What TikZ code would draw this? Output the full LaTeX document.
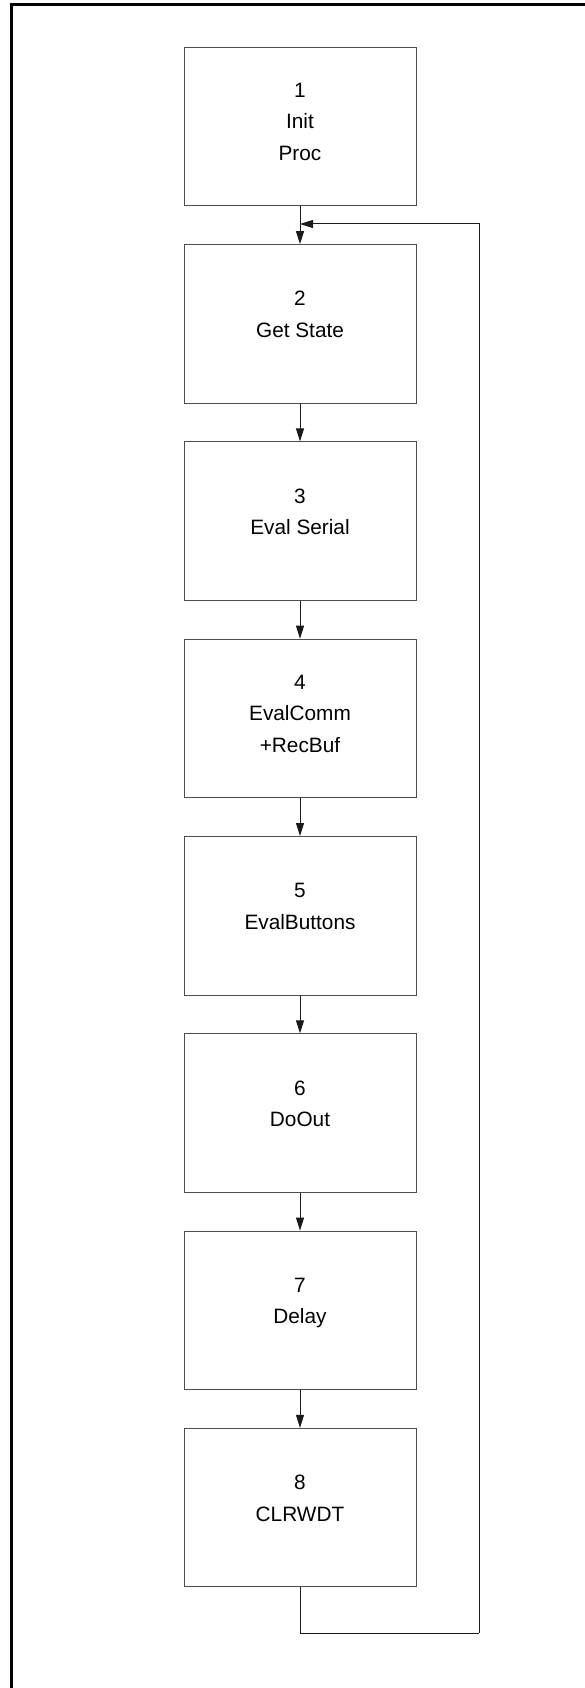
\documentclass[tikz,border=0pt]{standalone}
\usepackage{fontspec}
\setmainfont{Liberation Sans}
\usetikzlibrary{arrows.meta}
\definecolor{boxline}{HTML}{4D4D4D}
\definecolor{flowline}{HTML}{1A1A1A}
\begin{document}
\begin{tikzpicture}[x=1pt,y=-1pt,
  stepbox/.style={draw=boxline, line width=1pt, minimum width=232pt,
                  minimum height=158.5pt, inner sep=0pt},
  steplabel/.style={align=center, inner sep=0pt, anchor=north,
                    font=\fontsize{20.8}{31.5}\selectfont},
  flow/.style={draw=flowline, line width=1pt,
               -{Triangle[length=13pt,width=8pt]}},
  loopline/.style={draw=flowline, line width=1pt},
]
\useasboundingbox (0,0) rectangle (585,1688);
% outer frame (runs past the right and bottom edges)
\draw[black, line width=2.4pt] (11.5,1700) -- (11.5,4.5) -- (600,4.5);

% process steps
\node[stepbox] (b1) at (300,126.55) {};
\node[stepbox] (b2) at (300,323.85) {};
\node[stepbox] (b3) at (300,521.15) {};
\node[stepbox] (b4) at (300,718.45) {};
\node[stepbox] (b5) at (300,915.75) {};
\node[stepbox] (b6) at (300,1113.05) {};
\node[stepbox] (b7) at (300,1310.35) {};
\node[stepbox] (b8) at (300,1507.65) {};

\node[steplabel] (t1) at ([yshift=-36pt]b1.north) {1\\Init\\Proc};
\node[steplabel] (t2) at ([yshift=-47pt]b2.north) {2\\Get State};
\node[steplabel] (t3) at ([yshift=-47pt]b3.north) {3\\Eval Serial};
\node[steplabel] (t4) at ([yshift=-36pt]b4.north) {4\\EvalComm\\+RecBuf};
\node[steplabel] (t5) at ([yshift=-47pt]b5.north) {5\\EvalButtons};
\node[steplabel] (t6) at ([yshift=-47pt]b6.north) {6\\DoOut};
\node[steplabel] (t7) at ([yshift=-47pt]b7.north) {7\\Delay};
\node[steplabel] (t8) at ([yshift=-47pt]b8.north) {8\\CLRWDT};

% forward flow
\draw[flow] (b1.south) -- (b2.north);
\draw[flow] (b2.south) -- (b3.north);
\draw[flow] (b3.south) -- (b4.north);
\draw[flow] (b4.south) -- (b5.north);
\draw[flow] (b5.south) -- (b6.north);
\draw[flow] (b6.south) -- (b7.north);
\draw[flow] (b7.south) -- (b8.north);

% return loop back into the entry of step 2
\coordinate (join) at (300,224);
\coordinate (lowright) at (479,1633);
\draw[loopline] (b8.south) |- (lowright);
\draw[flow] (lowright) |- (join);
\end{tikzpicture}
\end{document}
